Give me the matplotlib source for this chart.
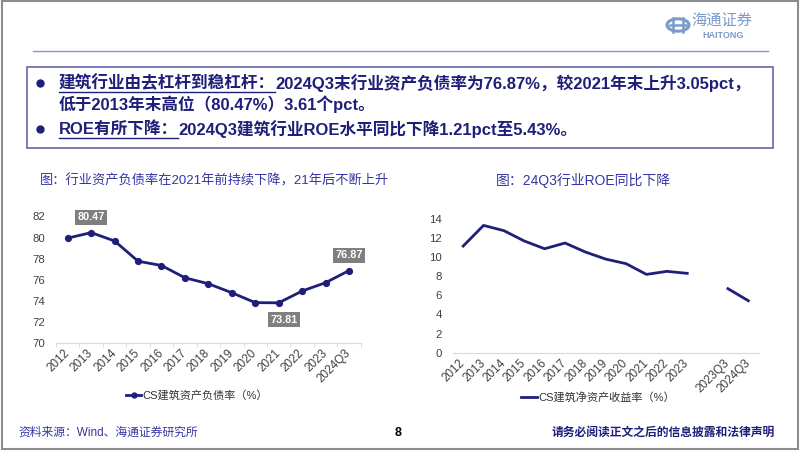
import matplotlib.pyplot as plt
import numpy as np
from matplotlib.patches import Rectangle, Circle
from matplotlib.lines import Line2D

plt.rcParams['font.family'] = ['Liberation Sans', 'Noto Sans CJK SC']

W, H = 802, 451

# ---- data ----
debt_labels = ['2012', '2013', '2014', '2015', '2016', '2017', '2018',
               '2019', '2020', '2021', '2022', '2023', '2024Q3']
debt_ratio = [79.95, 80.47, 79.68, 77.76, 77.35, 76.19, 75.62,
              74.77, 73.83, 73.81, 74.93, 75.72, 76.87]
debt_marked = {1: 'above', 9: 'below', 12: 'above'}

roe_labels = ['2012', '2013', '2014', '2015', '2016', '2017', '2018',
              '2019', '2020', '2021', '2022', '2023', '', '2023Q3', '2024Q3']
roe_values = [11.14, 13.30, 12.75, 11.67, 10.86, 11.46, 10.52,
              9.78, 9.30, 8.18, 8.50, 8.29, np.nan, 6.69, 5.43]

NAVY = '#1f1f7a'
TITLE_BLUE = '#3535a5'
LOGO_BLUE = '#7b9bc8'


def fx(x):
    return x / W


def fy(y):
    return 1 - y / H


def px_axes(left, top, right, bottom):
    return fig.add_axes([fx(left), fy(bottom), (right - left) / W, (bottom - top) / H])


fig = plt.figure(figsize=(W / 100, H / 100), dpi=100)
fig.patch.set_facecolor('white')

# page frame, header line, logo
fig.add_artist(Rectangle((fx(2), fy(449)), fx(796), 448 / H, transform=fig.transFigure,
                         fill=False, edgecolor='#8c8c8c', lw=1.5))
fig.add_artist(Line2D([fx(33), fx(768)], [fy(51), fy(51)], transform=fig.transFigure,
                      color='#8a94c8', lw=1))
fig.add_artist(Circle((fx(678), fy(25)), 11 / W, transform=fig.transFigure,
                      fill=False, edgecolor=LOGO_BLUE, lw=2.2))
fig.add_artist(Line2D([fx(670), fx(686)], [fy(25), fy(25)], transform=fig.transFigure,
                      color=LOGO_BLUE, lw=1.8))
for xx in (673, 683):
    fig.add_artist(Line2D([fx(xx), fx(xx)], [fy(18), fy(32)], transform=fig.transFigure,
                          color=LOGO_BLUE, lw=1.8))
fig.text(fx(722), fy(21), '海通证券', color=LOGO_BLUE, fontsize=11, ha='center', va='center',
         family=['Noto Sans CJK SC'])
fig.text(fx(723), fy(35), 'HAITONG', color=LOGO_BLUE, fontsize=6.5, fontweight='bold',
         ha='center', va='center')

# summary box
fig.add_artist(Rectangle((fx(27), fy(148)), fx(746), 81 / H, transform=fig.transFigure,
                         fill=False, edgecolor='#7070b0', lw=1.3))
for by in (83, 129):
    fig.add_artist(Line2D([fx(40)], [fy(by)], transform=fig.transFigure, marker='o',
                          markersize=5, color=NAVY, lw=0))

renderer = fig.canvas.get_renderer()


def underlined_line(x, y, head, tail):
    t = fig.text(fx(x), fy(y), head, color=NAVY, fontsize=12, fontweight='bold', va='center')
    bb = t.get_window_extent(renderer)
    fig.add_artist(Line2D([bb.x0 / W, bb.x1 / W], [(bb.y0 - 1) / H, (bb.y0 - 1) / H],
                          transform=fig.transFigure, color=NAVY, lw=1))
    fig.text(bb.x1 / W, fy(y), tail, color=NAVY, fontsize=12, fontweight='bold', va='center')


underlined_line(59, 83, '建筑行业由去杠杆到稳杠杆：',
                '2024Q3末行业资产负债率为76.87%，较2021年末上升3.05pct，')
fig.text(fx(59), fy(104), '低于2013年末高位（80.47%）3.61个pct。', color=NAVY, fontsize=12,
         fontweight='bold', va='center')
underlined_line(59, 129, 'ROE有所下降：', '2024Q3建筑行业ROE水平同比下降1.21pct至5.43%。')

# chart titles
fig.text(fx(40), fy(181), '图：行业资产负债率在2021年前持续下降，21年后不断上升',
         color=TITLE_BLUE, fontsize=9.5, va='center')
fig.text(fx(496), fy(180), '图：24Q3行业ROE同比下降', color=TITLE_BLUE, fontsize=10, va='center')


def style_axes(ax):
    for s in ('top', 'right', 'left'):
        ax.spines[s].set_visible(False)
    ax.spines['bottom'].set_color('#d9d9d9')
    ax.tick_params(axis='y', length=0, pad=8, labelsize=8.2, labelcolor='#404040')
    ax.tick_params(axis='x', length=0, pad=6, labelsize=8.5, labelcolor='#404040')
    for lab in ax.get_xticklabels():
        lab.set_rotation(45)
        lab.set_ha('right')
        lab.set_va('center')
        lab.set_rotation_mode('anchor')


# left chart: debt ratio
ax1 = px_axes(56, 216.5, 360.7, 343)
x1 = np.arange(len(debt_labels))
ax1.plot(x1, debt_ratio, color=NAVY, lw=2, marker='o', markersize=4.2,
         label='CS建筑资产负债率（%）')
ax1.set_xlim(-0.5, len(debt_labels) - 0.5)
ax1.set_ylim(70, 82)
ax1.set_yticks(range(70, 83, 2))
ax1.set_xticks(x1)
ax1.set_xticklabels(debt_labels)
ax1.set_xticks(np.arange(-0.5, len(debt_labels), 1), minor=True)
ax1.tick_params(axis='x', which='minor', length=3, color='#d9d9d9')
style_axes(ax1)
for i, where in debt_marked.items():
    dy = 11 if where == 'above' else -12
    dx = 0 if where == 'above' else 4
    ax1.annotate(f'{debt_ratio[i]:.2f}', (x1[i], debt_ratio[i]), xytext=(dx, dy),
                 textcoords='offset points', ha='center', va='center', color='white',
                 fontsize=7.8, fontweight='bold',
                 bbox=dict(boxstyle='square,pad=0.22', fc='#7f7f7f', ec='none'))
ax1.legend(loc='center', bbox_to_anchor=(fx(197), fy(395)), bbox_transform=fig.transFigure,
           frameon=False, fontsize=8, handlelength=1.4, handletextpad=0.1,
           markerscale=0.85, labelcolor='#333333')

# right chart: ROE
ax2 = px_axes(453, 218.7, 758.5, 352.7)
x2 = np.arange(len(roe_labels))
ax2.plot(x2, roe_values, color=NAVY, lw=2, label='CS建筑净资产收益率（%）')
ax2.set_xlim(-0.5, len(roe_labels) - 0.5)
ax2.set_ylim(0, 14)
ax2.set_yticks(range(0, 15, 2))
ax2.set_xticks(x2)
ax2.set_xticklabels(roe_labels)
style_axes(ax2)
ax2.legend(loc='center', bbox_to_anchor=(fx(598), fy(397)), bbox_transform=fig.transFigure,
           frameon=False, fontsize=8, handlelength=1.4, handletextpad=0.1,
           labelcolor='#333333')

# footer
fig.text(fx(18), fy(433), '资料来源：Wind、海通证券研究所', color='#3535a5', fontsize=8.5,
         va='center')
fig.text(fx(398), fy(433), '8', color='black', fontsize=9, fontweight='bold',
         ha='center', va='center')
fig.text(fx(775), fy(433), '请务必阅读正文之后的信息披露和法律声明', color=NAVY, fontsize=8.5,
         fontweight='bold', ha='right', va='center')

fig.savefig('out.png', dpi=100)
